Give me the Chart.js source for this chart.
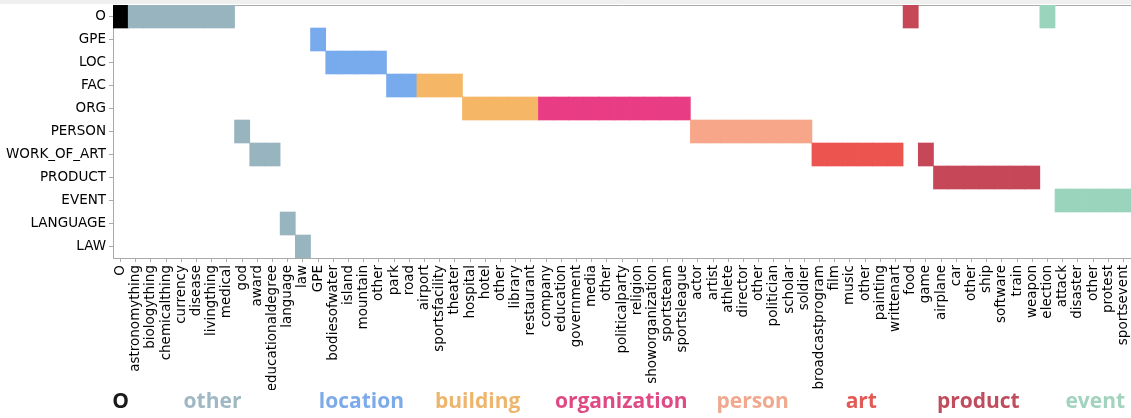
<!DOCTYPE html>
<html>
<head>
<meta charset="utf-8">
<script src="https://cdn.jsdelivr.net/npm/chart.js"></script>
<style>
  html, body { margin: 0; padding: 0; background: #fff; overflow: hidden; }
  #wrap { position: relative; width: 1131px; height: 418px;
          background: linear-gradient(#efefef 0, #efefef 4px, #fff 4px, #fff 100%); }
</style>
</head>
<body>
<div id="wrap"><canvas id="chart"></canvas></div>
<script>
// coarse rows (y axis)
const rowLabels = ["O", "GPE", "LOC", "FAC", "ORG", "PERSON", "WORK_OF_ART",
                   "PRODUCT", "EVENT", "LANGUAGE", "LAW"];

// fine-grained types (x axis), in order
const fineLabels = [
  "O",
  "astronomything", "biologything", "chemicalthing", "currency", "disease",
  "livingthing", "medical", "god", "award", "educationaldegree", "language", "law",
  "GPE", "bodiesofwater", "island", "mountain", "other", "park", "road",
  "airport", "sportsfacility", "theater", "hospital", "hotel", "other", "library", "restaurant",
  "company", "education", "government", "media", "other", "politicalparty", "religion",
  "showorganization", "sportsteam", "sportsleague",
  "actor", "artist", "athlete", "director", "other", "politician", "scholar", "soldier",
  "broadcastprogram", "film", "music", "other", "painting", "writtenart",
  "food", "game", "airplane", "car", "other", "ship", "software", "train", "weapon",
  "election", "attack", "disaster", "other", "protest", "sportsevent"
];

// which row each fine type falls in
const cellRow = [
  "O",
  "O", "O", "O", "O", "O", "O", "O", "PERSON", "WORK_OF_ART", "WORK_OF_ART", "LANGUAGE", "LAW",
  "GPE", "LOC", "LOC", "LOC", "LOC", "FAC", "FAC",
  "FAC", "FAC", "FAC", "ORG", "ORG", "ORG", "ORG", "ORG",
  "ORG", "ORG", "ORG", "ORG", "ORG", "ORG", "ORG", "ORG", "ORG", "ORG",
  "PERSON", "PERSON", "PERSON", "PERSON", "PERSON", "PERSON", "PERSON", "PERSON",
  "WORK_OF_ART", "WORK_OF_ART", "WORK_OF_ART", "WORK_OF_ART", "WORK_OF_ART", "WORK_OF_ART",
  "O", "WORK_OF_ART", "PRODUCT", "PRODUCT", "PRODUCT", "PRODUCT", "PRODUCT", "PRODUCT", "PRODUCT",
  "O", "EVENT", "EVENT", "EVENT", "EVENT", "EVENT"
];

// coarse groups of the fine types
const groupNames = ["O", "other", "location", "building", "organization", "person", "art", "product", "event"];
const groupSizes = [1, 12, 7, 8, 10, 8, 6, 9, 6];
const groupColors = ["#000000", "#97b4bf", "#78aaee", "#f5b666", "#e83c84",
                     "#f7a68a", "#ec5450", "#c54758", "#9ad4bc"];
const groupTextColors = ["#1a1a1a", "#9fb8c4", "#7dabea", "#eeb56c", "#df4a84",
                         "#f0a88e", "#e25a55", "#c04d5e", "#a2d3bf"];
// where the group names sit, in column units
const groupLabelPos = [0, 6.05, 15.85, 23.5, 32.95, 41.6, 48.75, 56.45, 64.15];

const colGroup = [];
groupSizes.forEach((n, g) => { for (let i = 0; i < n; i++) colGroup.push(g); });
const cells = cellRow.map(r => { const i = rowLabels.indexOf(r); return [i, i + 1]; });

const tickFont = { family: "DejaVu Sans", size: 13.5 };
const axisGray = "#aaaaaa";

const ctx = document.getElementById("chart").getContext("2d");
new Chart(ctx, {
  type: "bar",
  data: {
    labels: fineLabels,
    datasets: [{
      data: cells,
      backgroundColor: colGroup.map(g => groupColors[g]),
      borderWidth: 0,
      borderSkipped: false,
      barPercentage: 1,
      categoryPercentage: 1,
      xAxisID: "x",
      yAxisID: "y"
    }]
  },
  options: {
    responsive: true,
    maintainAspectRatio: false,
    animation: false,
    layout: { padding: { top: 5, right: 0, bottom: 0, left: 0 } },
    plugins: { legend: { display: false }, tooltip: { enabled: false } },
    scales: {
      x: {
        type: "category",
        position: "bottom",
        weight: 0,
        offset: true,
        grid: { offset: false, drawOnChartArea: false, tickLength: 4, color: axisGray },
        border: { color: axisGray },
        ticks: { autoSkip: false, minRotation: 90, maxRotation: 90, padding: 3, color: "#000", font: tickFont },
        afterFit: s => { s.height = 132; s.paddingLeft = 0; s.paddingRight = 0; }
      },
      groups: {
        type: "linear",
        position: "bottom",
        weight: 1,
        offset: false,
        min: -0.5,
        max: 66.5,
        grid: { display: false },
        border: { display: false },
        afterBuildTicks: s => { s.ticks = groupLabelPos.map(v => ({ value: v })); },
        ticks: {
          autoSkip: false, maxRotation: 0, minRotation: 0, padding: -9,
          callback: (v, i) => groupNames[i],
          color: c => groupTextColors[c.index],
          font: { family: "Open Sans", size: 21, weight: "bold" }
        },
        afterFit: s => { s.height = 28; s.paddingLeft = 0; s.paddingRight = 0; }
      },
      xTop: {
        type: "category",
        labels: fineLabels,
        position: "top",
        offset: true,
        grid: { display: false },
        ticks: { display: false },
        border: { color: axisGray },
        afterFit: s => { s.height = 0; s.paddingLeft = 0; s.paddingRight = 0; }
      },
      y: {
        type: "linear",
        position: "left",
        reverse: true,
        min: 0,
        max: 11,
        afterBuildTicks: s => { s.ticks = rowLabels.map((_, i) => ({ value: i + 0.5 })); },
        grid: { drawOnChartArea: false, tickLength: 4, color: axisGray },
        border: { color: axisGray },
        ticks: { autoSkip: false, padding: 3, color: "#000", font: tickFont,
                 callback: v => rowLabels[Math.floor(v)] },
        afterFit: s => { s.width = 113; s.paddingTop = 0; s.paddingBottom = 0; }
      }
    }
  }
});
</script>
</body>
</html>
